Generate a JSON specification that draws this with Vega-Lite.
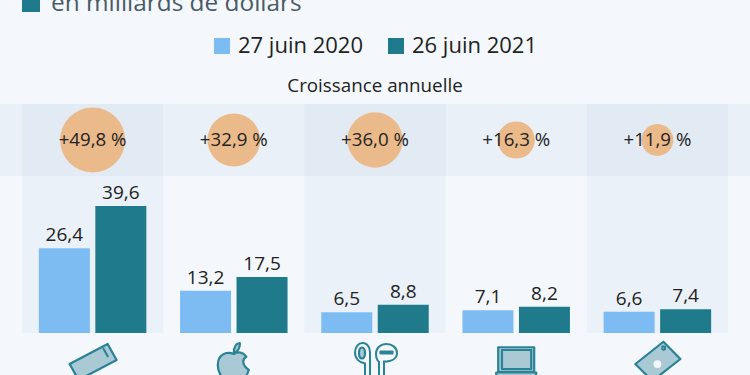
{"$schema":"https://vega.github.io/schema/vega-lite/v6.json","width":750,"height":375,"padding":0,"autosize":{"type":"fit","contains":"padding"},"background":"#f4f8fc","config":{"view":{"stroke":null},"font":"Open Sans","text":{"font":"Open Sans","color":"#222222"}},
"datasets":{
"cats":[{"cat":"iPhone","pair":true,"croissance":49.8,"txt":"+49,8 %","rang":"Croissance annuelle","bloc":"Ventes"},{"cat":"Services","pair":false,"croissance":32.9,"txt":"+32,9 %","rang":"Croissance annuelle","bloc":"Ventes"},{"cat":"Accessoires","pair":true,"croissance":36.0,"txt":"+36,0 %","rang":"Croissance annuelle","bloc":"Ventes"},{"cat":"Mac","pair":false,"croissance":16.3,"txt":"+16,3 %","rang":"Croissance annuelle","bloc":"Ventes"},{"cat":"iPad","pair":true,"croissance":11.9,"txt":"+11,9 %","rang":"Croissance annuelle","bloc":"Ventes"}],
"ventes":[{"cat":"iPhone","date":"27 juin 2020","v":26.4,"t":"26,4"},{"cat":"iPhone","date":"26 juin 2021","v":39.6,"t":"39,6"},{"cat":"Services","date":"27 juin 2020","v":13.2,"t":"13,2"},{"cat":"Services","date":"26 juin 2021","v":17.5,"t":"17,5"},{"cat":"Accessoires","date":"27 juin 2020","v":6.5,"t":"6,5"},{"cat":"Accessoires","date":"26 juin 2021","v":8.8,"t":"8,8"},{"cat":"Mac","date":"27 juin 2020","v":7.1,"t":"7,1"},{"cat":"Mac","date":"26 juin 2021","v":8.2,"t":"8,2"},{"cat":"iPad","date":"27 juin 2020","v":6.6,"t":"6,6"},{"cat":"iPad","date":"26 juin 2021","v":7.4,"t":"7,4"}],
"icones":[{"cat":"iPhone","rang":"icone"},{"cat":"Services","rang":"icone"},{"cat":"Accessoires","rang":"icone"},{"cat":"Mac","rang":"icone"},{"cat":"iPad","rang":"icone"}],
"entete":[{"cle":"en milliards de dollars"}],
"sous":[{"cat":"Accessoires","cle":"Croissance annuelle"}]
},
"layer":[
{"data":{"name":"entete"},"mark":{"type":"rect","color":"#1f7a8c"},"encoding":{"x":{"field":"cle","type":"nominal","axis":null,"scale":{"type":"band","range":[22,40],"padding":0}},"y":{"field":"cle","type":"nominal","axis":null,"scale":{"type":"band","range":[0,12],"padding":0}}}},
{"data":{"name":"entete"},"mark":{"type":"text","align":"left","baseline":"alphabetic","fontSize":24.4,"color":"#4a5a66","clip":true},"encoding":{"text":{"field":"cle"},"x":{"field":"cle","type":"nominal","axis":null,"scale":{"type":"point","range":[51,51]}},"y":{"field":"cle","type":"nominal","axis":null,"scale":{"type":"point","range":[11,11]}}}},
{"data":{"name":"sous"},"mark":{"type":"text","fontSize":18.8,"baseline":"middle"},"encoding":{"text":{"field":"cle"},"x":{"field":"cat","type":"nominal","axis":null,"scale":{"type":"band","domain":["iPhone","Services","Accessoires","Mac","iPad"],"range":[22,728],"padding":0}},"y":{"field":"cle","type":"nominal","axis":null,"scale":{"type":"point","range":[86,86]}}}},
{"data":{"name":"cats"},"transform":[{"filter":"datum.cat=='iPhone'"}],"mark":{"type":"rect","color":"#e9f0f8"},"encoding":{"y":{"field":"rang","type":"nominal","axis":null,"scale":{"type":"band","range":[104,176],"padding":0}}}},
{"data":{"name":"cats"},"transform":[{"filter":"datum.pair"}],"mark":{"type":"rect","color":"#e2eaf4"},"encoding":{"x":{"field":"cat","type":"nominal","axis":null,"scale":{"type":"band","domain":["iPhone","Services","Accessoires","Mac","iPad"],"range":[22,728],"padding":0}},"y":{"field":"rang","type":"nominal","axis":null,"scale":{"type":"band","range":[104,176],"padding":0}}}},
{"data":{"name":"cats"},"transform":[{"filter":"datum.pair"}],"mark":{"type":"rect","color":"#eaf1f8"},"encoding":{"x":{"field":"cat","type":"nominal","axis":null,"scale":{"type":"band","domain":["iPhone","Services","Accessoires","Mac","iPad"],"range":[22,728],"padding":0}},"y":{"field":"bloc","type":"nominal","axis":null,"scale":{"type":"band","range":[176,333],"padding":0}}}},
{"data":{"name":"cats"},"mark":{"type":"point","filled":true,"shape":"circle","color":"#ebba8a","opacity":1},"encoding":{"x":{"field":"cat","type":"nominal","axis":null,"scale":{"type":"band","domain":["iPhone","Services","Accessoires","Mac","iPad"],"range":[22,728],"padding":0}},"y":{"field":"rang","type":"nominal","axis":null,"scale":{"type":"band","range":[104,176],"padding":0}},"size":{"field":"croissance","type":"quantitative","legend":null,"scale":{"domain":[0,50],"range":[0,4250]}}}},
{"data":{"name":"cats"},"mark":{"type":"text","fontSize":18.7,"baseline":"middle"},"encoding":{"text":{"field":"txt"},"x":{"field":"cat","type":"nominal","axis":null,"scale":{"type":"band","domain":["iPhone","Services","Accessoires","Mac","iPad"],"range":[22,728],"padding":0}},"y":{"field":"rang","type":"nominal","axis":null,"scale":{"type":"band","range":[104,176],"padding":0}}}},
{"data":{"name":"ventes"},"mark":{"type":"bar"},"encoding":{"x":{"field":"cat","type":"nominal","axis":null,"scale":{"type":"band","domain":["iPhone","Services","Accessoires","Mac","iPad"],"range":[22,728],"padding":0}},"xOffset":{"field":"date","type":"nominal","scale":{"domain":["27 juin 2020","26 juin 2021"],"paddingInner":0.097,"paddingOuter":0.2985}},"y":{"field":"v","type":"quantitative","axis":null,"scale":{"domain":[0,39.6],"range":[333,206],"nice":false,"zero":true}},"color":{"field":"date","type":"nominal","scale":{"domain":["27 juin 2020","26 juin 2021"],"range":["#7dbcf3","#1f7a8c"]},"legend":{"title":null,"orient":"none","legendX":211,"legendY":35,"direction":"horizontal","symbolType":"square","symbolSize":256,"symbolStrokeWidth":0,"labelFontSize":22,"labelFont":"Open Sans","labelColor":"#222222","labelOffset":5,"columnPadding":22,"padding":0}}}},
{"data":{"name":"ventes"},"mark":{"type":"text","fontSize":19,"baseline":"bottom","dy":-3},"encoding":{"text":{"field":"t"},"x":{"field":"cat","type":"nominal","axis":null,"scale":{"type":"band","domain":["iPhone","Services","Accessoires","Mac","iPad"],"range":[22,728],"padding":0}},"xOffset":{"field":"date","type":"nominal","scale":{"domain":["27 juin 2020","26 juin 2021"],"paddingInner":0.097,"paddingOuter":0.2985}},"y":{"field":"v","type":"quantitative","axis":null,"scale":{"domain":[0,39.6],"range":[333,206],"nice":false,"zero":true}}}},
{"data":{"name":"icones"},"mark":{"type":"point","filled":true,"color":"#a9cad4","stroke":"#2a8296","strokeWidth":2.2,"strokeJoin":"round","opacity":1,"size":2500,"clip":true},"encoding":{"x":{"field":"cat","type":"nominal","axis":null,"scale":{"type":"band","domain":["iPhone","Services","Accessoires","Mac","iPad"],"range":[22,728],"padding":0}},"y":{"field":"rang","type":"nominal","axis":null,"scale":{"type":"band","range":[345,379],"padding":0}},"shape":{"field":"cat","type":"nominal","legend":null,"scale":{"domain":["iPhone","Services","Accessoires","Mac","iPad"],"range":[
"M-.92 .08L.6 -.72L.96 -.08L-.56 .72Z",
"M0 -.32C-.3 -.45 -.64 -.3 -.64 .12C-.64 .5 -.3 .9 -.12 .9C-.04 .9 .08 .84 .2 .9C.36 .9 .5 .6 .6 .32C.3 .1 .34 -.12 .5 -.21C.36 -.42 .14 -.42 0 -.32ZM0 -.36C0 -.6 .1 -.74 .24 -.76C.26 -.56 .14 -.4 0 -.36Z",
"M-.64 -.36C-.64 -.5 -.58 -.58 -.52 -.58C-.46 -.58 -.4 -.5 -.4 -.36C-.4 -.22 -.46 -.14 -.52 -.14C-.58 -.14 -.64 -.22 -.64 -.36ZM.22 -.42L.7 -.42L.7 -.34L.22 -.34Z",
"M-.72 -.59L.72 -.59L.72 .39L-.72 .39ZM-.57 -.48L.6 -.48L.6 .28L-.57 .28ZM-.8 .42L.8 .42L.8 .8L-.8 .8Z",
"M.24 -.81L.92 -.12L-.2 .76L-.88 .08Z"]}}}},
{"data":{"name":"icones"},"transform":[{"filter":"datum.cat=='Accessoires'||datum.cat=='iPhone'||datum.cat=='iPad'"}],"mark":{"type":"point","filled":false,"stroke":"#2a8296","strokeWidth":2,"opacity":1,"size":2500,"clip":true},"encoding":{"x":{"field":"cat","type":"nominal","axis":null,"scale":{"type":"band","domain":["iPhone","Services","Accessoires","Mac","iPad"],"range":[22,728],"padding":0}},"y":{"field":"rang","type":"nominal","axis":null,"scale":{"type":"band","range":[345,379],"padding":0}},"shape":{"field":"cat","type":"nominal","legend":null,"scale":{"domain":["iPhone","Accessoires","iPad"],"range":[
"M.42 -.56L.62 -.2",
"M-.4 .8L-.4 .06C-.64 .02 -.8 -.14 -.8 -.38C-.8 -.6 -.66 -.76 -.5 -.76C-.32 -.76 -.2 -.6 -.2 -.38L-.2 .8M.16 .8L.16 0C.06 -.08 .04 -.24 .04 -.34C.04 -.56 .22 -.72 .46 -.72C.7 -.72 .88 -.56 .88 -.36C.88 -.16 .7 -.02 .36 -.02L.36 .8",
"M.19 -.56C.19 -.6 .22 -.63 .25 -.63C.28 -.63 .31 -.6 .31 -.56C.31 -.52 .28 -.49 .25 -.49C.22 -.49 .19 -.52 .19 -.56Z"]}}}},
{"data":{"name":"icones"},"transform":[{"filter":"datum.cat=='iPad'"}],"mark":{"type":"point","filled":true,"shape":"circle","color":"#f4f8fc","opacity":1,"size":60},"encoding":{"x":{"field":"cat","type":"nominal","axis":null,"scale":{"type":"band","domain":["iPhone","Services","Accessoires","Mac","iPad"],"range":[22,728],"padding":0}},"y":{"field":"rang","type":"nominal","axis":null,"scale":{"type":"band","range":[347,381],"padding":0}}}}
],
"resolve":{"scale":{"x":"independent","y":"independent","shape":"independent","size":"independent"}}}
